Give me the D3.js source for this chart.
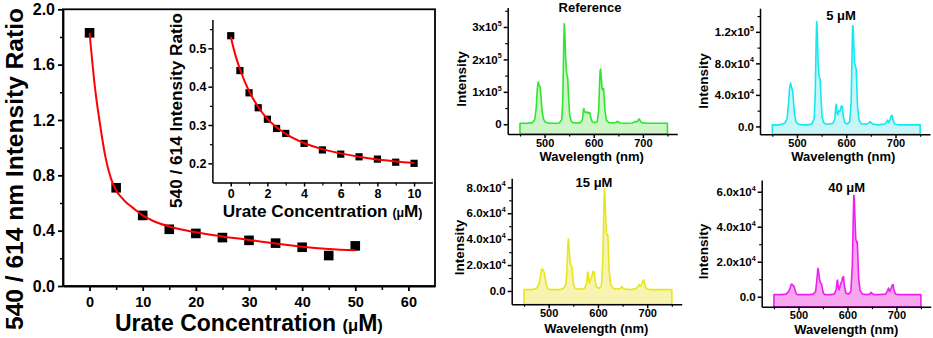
<!DOCTYPE html>
<html><head><meta charset="utf-8">
<script src="https://cdn.jsdelivr.net/npm/d3@7"></script>
<style>
body{margin:0;background:#fff}
svg{display:block}
text{font-family:"Liberation Sans",Arial,sans-serif;font-weight:bold;fill:#000}
</style>
</head><body>
<svg id="c" width="933" height="338"></svg>
<script>
// ---------- main ratio plot ----------
const concMain  = [0, 5, 10, 15, 20, 25, 30, 35, 40, 45, 50];
const ratioMain = [1.83, 0.71, 0.51, 0.41, 0.38, 0.35, 0.33, 0.31, 0.28, 0.22, 0.29];
const fitMainX  = [0, 1, 2, 3, 4, 5, 6, 7, 8, 10, 12, 15, 20, 25, 30, 35, 40, 45, 50];
const fitMainY  = [1.83, 1.44, 1.16, 0.93, 0.78, 0.69, 0.64, 0.60, 0.57, 0.51, 0.47, 0.43, 0.388, 0.358, 0.333, 0.307, 0.284, 0.268, 0.258];
const mainYTicks = [0, 0.4, 0.8, 1.2, 1.6, 2.0];
const mainYMinor = [0.2, 0.6, 1.0, 1.4, 1.8];
const mainXTicks = [0, 10, 20, 30, 40, 50, 60];
const mainXMinor = [5, 15, 25, 35, 45, 55];

// ---------- inset ----------
const concInset  = [0, 0.5, 1, 1.5, 2, 2.5, 3, 4, 5, 6, 7, 8, 9, 10];
const ratioInset = [0.533, 0.442, 0.384, 0.345, 0.315, 0.291, 0.278, 0.252, 0.235, 0.224, 0.217, 0.211, 0.203, 0.200];
const fitInsetX  = [0, 0.25, 0.5, 1, 1.5, 2, 2.5, 3, 4, 5, 6, 7, 8, 9, 10];
const fitInsetY  = [0.530, 0.483, 0.446, 0.388, 0.347, 0.316, 0.294, 0.277, 0.253, 0.237, 0.226, 0.217, 0.210, 0.205, 0.201];
const insetYTicks = [0.2, 0.3, 0.4, 0.5];
const insetYMinor = [0.25, 0.35, 0.45, 0.55];
const insetXTicks = [0, 2, 4, 6, 8, 10];
const insetXMinor = [1, 3, 5, 7, 9];

// ---------- spectra (intensity in units of 10^4) ----------
const wavelengths = [450,465,475,480,483,485,487,489,491,493,495,498,502,510,522,530,535,537,539,540,541,543,545,547,549,551,554,558,566,573,577,579,580,581,583,585,587,589,590,592,594,597,602,607,610,612,613,614,615,617,619,620,621,623,626,631,640,646,648,650,654,665,678,682,684,686,689,691,693,695,698,705,720,740,750];
const specRef = [0.3,0.3,0.5,1.5,5,10.5,13,12,11.5,8,4,1.5,0.6,0.3,0.3,0.4,1.5,7,25,31,29,20,15.5,14.5,8,3,1,0.5,0.4,0.5,1.5,4.5,4.8,4.0,3.6,3.8,3.5,3.7,3.4,3.6,2,0.8,0.5,0.8,4,13,16.5,17,15,11,10.5,11,9,4,1.2,0.5,0.4,0.6,0.9,0.7,0.4,0.3,0.4,0.6,0.9,0.7,0.9,1.5,1.6,0.9,0.5,0.3,0.3,0.3,0.3];
const spec5   = [0.2,0.2,0.4,1,3,4.8,5.5,5,4.6,3.2,1.6,0.6,0.3,0.2,0.2,0.3,1,4,11,13.3,12.5,8,6.3,6,3.5,1.2,0.5,0.3,0.3,0.4,1,2.6,2.8,1.8,1.5,2.0,1.9,2.3,2.6,2.5,1.3,0.5,0.3,0.6,3,10,12.8,12.6,11,8,7.5,7.4,6,2.5,0.8,0.3,0.3,0.4,0.6,0.5,0.3,0.2,0.3,0.6,0.8,0.5,0.8,1.3,1.4,0.8,0.3,0.2,0.2,0.2,0.2];
const spec15  = [0.1,0.1,0.2,0.5,1,1.6,1.7,1.6,1.4,1,0.5,0.2,0.1,0.1,0.1,0.2,0.5,1.5,3.5,4.0,3.7,2.4,2.0,1.9,1.1,0.4,0.2,0.15,0.15,0.2,0.6,1.4,1.45,0.9,0.6,0.9,1.1,1.3,1.5,1.5,0.9,0.3,0.2,0.4,2.5,6.5,7.9,7.6,6.5,4.5,4.3,4.35,3.5,1.5,0.5,0.2,0.15,0.2,0.35,0.25,0.15,0.1,0.2,0.4,0.5,0.35,0.5,0.8,0.85,0.5,0.2,0.1,0.1,0.1,0.1];
const spec40  = [0.12,0.12,0.15,0.3,0.5,0.7,0.72,0.65,0.6,0.4,0.2,0.12,0.12,0.12,0.12,0.15,0.3,0.8,1.4,1.62,1.5,1.0,0.8,0.75,0.45,0.2,0.12,0.12,0.12,0.15,0.4,0.9,0.95,0.6,0.4,0.6,0.8,0.9,1.1,1.15,0.6,0.2,0.15,0.3,1.8,4.6,5.8,5.6,4.8,3.3,3.1,3.15,2.5,1.0,0.35,0.15,0.12,0.15,0.25,0.2,0.12,0.12,0.15,0.35,0.5,0.3,0.45,0.65,0.7,0.4,0.15,0.12,0.12,0.12,0.12];
const spectrumTitles = ["Reference", "5 \u03BCM", "15 \u03BCM", "40 \u03BCM"];
const wlTicks = [500, 600, 700];
const wlMinor = [450, 550, 650, 750];
const refTicks = [0, 10, 20, 30];      const refTickLabels = ["0", "1x10^5", "2x10^5", "3x10^5"];      const refMinor = [5, 15, 25, 35];
const t5Ticks  = [0, 4, 8, 12];        const t5TickLabels  = ["0.0", "4.0x10^4", "8.0x10^4", "1.2x10^5"]; const t5Minor = [2, 6, 10, 14];
const t15Ticks = [0, 2, 4, 6, 8];      const t15TickLabels = ["0.0", "2.0x10^4", "4.0x10^4", "6.0x10^4", "8.0x10^4"]; const t15Minor = [1, 3, 5, 7];
const t40Ticks = [0, 2, 4, 6];         const t40TickLabels = ["0.0", "2.0x10^4", "4.0x10^4", "6.0x10^4"]; const t40Minor = [1, 3, 5];

const svg = d3.select("#c");

function fit(sel, target) {
  const fs = parseFloat(sel.attr("font-size"));
  const L = sel.node().getComputedTextLength();
  if (L > 0) sel.attr("font-size", fs * target / L);
}
function styleAxis(g, w) {
  g.select(".domain").attr("stroke", "#000").attr("stroke-width", w);
  g.selectAll(".tick line").attr("stroke", "#000").attr("stroke-width", w);
}
function minorAxis(axisFn, scale, vals, size, w, tr) {
  const g = svg.append("g").attr("transform", tr)
    .call(axisFn(scale).tickValues(vals).tickSize(size).tickFormat(""));
  g.select(".domain").remove();
  g.selectAll(".tick line").attr("stroke", "#000").attr("stroke-width", w);
}

// ================= MAIN =================
const xM = d3.scaleLinear().domain([-5, 65]).range([63, 435]);
const yM = d3.scaleLinear().domain([0, 2]).range([286, 9.3]);

svg.append("rect").attr("x", 63).attr("y", 9.3).attr("width", 435 - 63).attr("height", 286 - 9.3)
  .attr("fill", "none").attr("stroke", "#000").attr("stroke-width", 1.8);

const gyM = svg.append("g").attr("transform", "translate(63,0)")
  .call(d3.axisLeft(yM).tickValues(mainYTicks).tickSize(5).tickSizeOuter(0).tickPadding(3).tickFormat(d3.format(".1f")));
styleAxis(gyM, 1.8);
gyM.selectAll("text").attr("font-size", 16).attr("font-family", null);
minorAxis(d3.axisLeft, yM, mainYMinor, 3, 1.5, "translate(63,0)");

const gxM = svg.append("g").attr("transform", "translate(0,286)")
  .call(d3.axisBottom(xM).tickValues(mainXTicks).tickSize(5).tickSizeOuter(0).tickPadding(6).tickFormat(d3.format("d")));
styleAxis(gxM, 1.8);
gxM.selectAll("text").attr("font-size", 14.5).attr("font-family", null);
minorAxis(d3.axisBottom, xM, mainXMinor, 4, 1.5, "translate(0,286)");

svg.append("g").selectAll("rect").data(concMain.map((c, i) => [c, ratioMain[i]])).join("rect")
  .attr("x", d => xM(d[0]) - 4.8).attr("y", d => yM(d[1]) - 4.8)
  .attr("width", 9.6).attr("height", 9.6).attr("fill", "#000");

svg.append("path").datum(fitMainX.map((x, i) => [x, fitMainY[i]]))
  .attr("d", d3.line().x(d => xM(d[0])).y(d => yM(d[1])).curve(d3.curveMonotoneX))
  .attr("fill", "none").attr("stroke", "#ff0000").attr("stroke-width", 2);

// titles
const yTitle = svg.append("text").attr("transform", "translate(22.5,169) rotate(-90)")
  .attr("text-anchor", "middle").attr("font-size", 24).text("540 / 614 nm Intensity Ratio");
fit(yTitle, 322);

const xTitle = svg.append("text").attr("x", 115).attr("y", 330.5).attr("font-size", 22);
xTitle.append("tspan").text("Urate Concentration ");
xTitle.append("tspan").attr("font-size", "0.72em").text("(\u03BC");
xTitle.append("tspan").text("M");
xTitle.append("tspan").attr("font-size", "0.72em").text(")");
fit(xTitle, 268);

// ================= INSET =================
const xI = d3.scaleLinear().domain([-1, 11]).range([212.4, 432.4]);
const yI = d3.scaleLinear().domain([0.15, 0.575]).range([182.5, 19.6]);

const gyI = svg.append("g").attr("transform", "translate(212.4,0)")
  .call(d3.axisLeft(yI).tickValues(insetYTicks).tickSize(4).tickSizeOuter(0).tickPadding(2).tickFormat(d3.format(".1f")));
styleAxis(gyI, 1.5);
gyI.selectAll("text").attr("font-size", 12.5).attr("font-family", null);
minorAxis(d3.axisLeft, yI, insetYMinor, 2.5, 1.2, "translate(212.4,0)");

const gxI = svg.append("g").attr("transform", "translate(0,182.5)")
  .call(d3.axisBottom(xI).tickValues(insetXTicks).tickSize(4).tickSizeOuter(0).tickPadding(3).tickFormat(d3.format("d")));
styleAxis(gxI, 1.5);
gxI.selectAll("text").attr("font-size", 12.5).attr("font-family", null);
minorAxis(d3.axisBottom, xI, insetXMinor, 3, 1.2, "translate(0,182.5)");

svg.append("g").selectAll("rect").data(concInset.map((c, i) => [c, ratioInset[i]])).join("rect")
  .attr("x", d => xI(d[0]) - 3.6).attr("y", d => yI(d[1]) - 3.6)
  .attr("width", 7.2).attr("height", 7.2).attr("fill", "#000");

svg.append("path").datum(fitInsetX.map((x, i) => [x, fitInsetY[i]]))
  .attr("d", d3.line().x(d => xI(d[0])).y(d => yI(d[1])).curve(d3.curveMonotoneX))
  .attr("fill", "none").attr("stroke", "#ff0000").attr("stroke-width", 2);

const yTitleI = svg.append("text").attr("transform", "translate(182,110.5) rotate(-90)")
  .attr("text-anchor", "middle").attr("font-size", 15).text("540 / 614 Intensity Ratio");
fit(yTitleI, 195);

const xTitleI = svg.append("text").attr("x", 222.7).attr("y", 216.7).attr("font-size", 17);
xTitleI.append("tspan").text("Urate Concentration ");
xTitleI.append("tspan").attr("font-size", "0.72em").text("(\u03BC");
xTitleI.append("tspan").text("M");
xTitleI.append("tspan").attr("font-size", "0.72em").text(")");
fit(xTitleI, 200);

// ================= SPECTRA =================
const panels = [
  { vals: specRef, title: spectrumTitles[0], ticks: refTicks, labels: refTickLabels, minor: refMinor,
    xr: [507.7, 677.3], yd: [-3, 36], yr: [134, 7.5], stroke: "#2ee62e", fill: "#cdf5c8",
    tp: [590, 12], ylab: [465.5, 79], xlab: [591.7, 161] },
  { vals: spec5, title: spectrumTitles[1], ticks: t5Ticks, labels: t5TickLabels, minor: t5Minor,
    xr: [760, 930], yd: [-1, 15], yr: [134.3, 8.2], stroke: "#14e8f0", fill: "#c8f6f6",
    tp: [841, 19.5], ylab: [708, 81], xlab: [843.3, 161] },
  { vals: spec15, title: spectrumTitles[2], ticks: t15Ticks, labels: t15TickLabels, minor: t15Minor,
    xr: [511.7, 681.7], yd: [-1.03, 8.7], yr: [304.3, 178.3], stroke: "#e8e61e", fill: "#f7f3b0",
    tp: [594, 187], ylab: [463.5, 247.5], xlab: [596.3, 332.5] },
  { vals: spec40, title: spectrumTitles[3], ticks: t40Ticks, labels: t40TickLabels, minor: t40Minor,
    xr: [761.7, 930.7], yd: [-0.57, 6.67], yr: [306.7, 180], stroke: "#f01ef0", fill: "#f7a6f0",
    tp: [846.7, 192], ylab: [708, 251.5], xlab: [846.3, 333.5] }
];

panels.forEach(p => {
  const x = d3.scaleLinear().domain([425, 770]).range(p.xr);
  const y = d3.scaleLinear().domain(p.yd).range(p.yr);
  const pts = wavelengths.map((w, i) => [w, p.vals[i]]);

  svg.append("path").datum(pts)
    .attr("d", d3.area().x(d => x(d[0])).y0(y(p.yd[0])).y1(d => y(d[1])))
    .attr("fill", p.fill).attr("stroke", p.stroke).attr("stroke-width", 1.6).attr("stroke-linejoin", "round");

  const gy = svg.append("g").attr("transform", `translate(${p.xr[0]},0)`)
    .call(d3.axisLeft(y).tickValues(p.ticks).tickSize(4).tickSizeOuter(0).tickPadding(2));
  styleAxis(gy, 1.5);
  gy.selectAll(".tick text").attr("font-family", null).attr("font-size", 11.5).each(function(d, i) {
    const t = d3.select(this); t.text("");
    const parts = p.labels[i].split("^");
    t.append("tspan").text(parts[0]);
    if (parts[1]) t.append("tspan").attr("font-size", "0.62em").attr("dy", "-0.75em").text(parts[1]);
  });
  minorAxis(d3.axisLeft, y, p.minor, 2.5, 1.2, `translate(${p.xr[0]},0)`);

  const gx = svg.append("g").attr("transform", `translate(0,${p.yr[0]})`)
    .call(d3.axisBottom(x).tickValues(wlTicks).tickSize(4).tickSizeOuter(0).tickPadding(1).tickFormat(d3.format("d")));
  styleAxis(gx, 1.5);
  gx.selectAll("text").attr("font-family", null).attr("font-size", 11);
  minorAxis(d3.axisBottom, x, wlMinor, 2.5, 1.2, `translate(0,${p.yr[0]})`);

  svg.append("text").attr("x", p.tp[0]).attr("y", p.tp[1]).attr("text-anchor", "middle")
    .attr("font-size", 13).text(p.title);
  svg.append("text").attr("transform", `translate(${p.ylab[0]},${p.ylab[1]}) rotate(-90)`)
    .attr("text-anchor", "middle").attr("font-size", 13.5).text("Intensity");
  svg.append("text").attr("x", p.xlab[0]).attr("y", p.xlab[1]).attr("text-anchor", "middle")
    .attr("font-size", 13).text("Wavelength (nm)");
});
</script>
</body></html>
